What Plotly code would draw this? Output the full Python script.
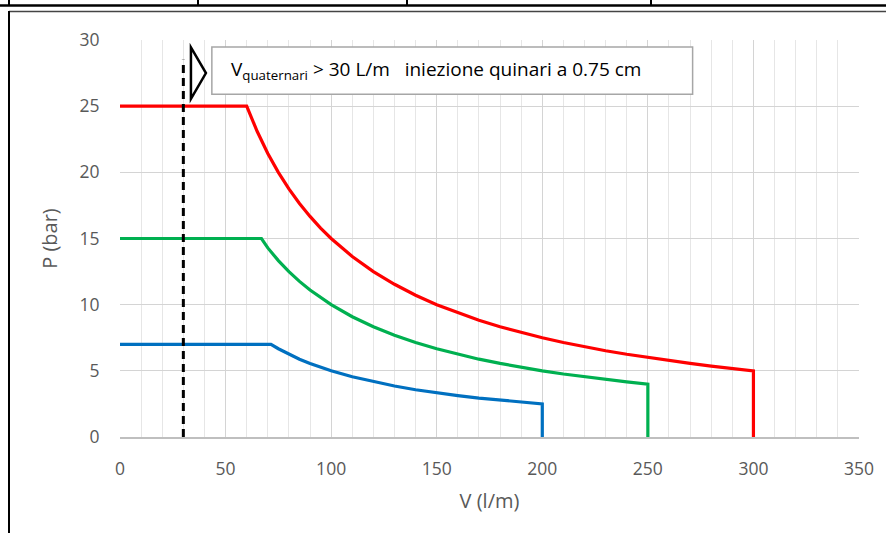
import plotly.graph_objects as go

# ---- data ----
v_red = [0, 60, 65, 70, 75, 80, 85, 90, 95, 100, 110, 120, 130, 140, 150, 160, 170, 180,
         190, 200, 210, 220, 230, 240, 250, 260, 270, 280, 290, 300, 300]
p_red = [25, 25, 23.08, 21.43, 20, 18.75, 17.65, 16.67, 15.79, 15, 13.64, 12.5, 11.54, 10.71,
         10, 9.38, 8.82, 8.33, 7.89, 7.5, 7.14, 6.82, 6.52, 6.25, 6, 5.77, 5.56, 5.36, 5.17, 5, 0]

v_green = [0, 67, 70, 75, 80, 85, 90, 95, 100, 110, 120, 130, 140, 150, 160, 170, 180, 190,
           200, 210, 220, 230, 240, 250, 250]
p_green = [15, 15, 14.29, 13.33, 12.5, 11.76, 11.11, 10.53, 10, 9.09, 8.33, 7.69, 7.14, 6.67,
           6.25, 5.88, 5.56, 5.26, 5, 4.76, 4.55, 4.35, 4.17, 4, 0]

v_blue = [0, 71.5, 75, 80, 85, 90, 95, 100, 110, 120, 130, 140, 150, 160, 170, 180, 190, 200, 200]
p_blue = [7, 7, 6.67, 6.25, 5.88, 5.56, 5.26, 5, 4.55, 4.17, 3.85, 3.57, 3.33, 3.13, 2.94,
          2.78, 2.63, 2.5, 0]

v_limit = [30, 30]
p_limit = [0, 28.5]

x_ticks = [0, 50, 100, 150, 200, 250, 300, 350]
y_ticks = [0, 5, 10, 15, 20, 25, 30]

note_text = "V<sub>quaternari</sub> &gt; 30 L/m&nbsp;&nbsp;&nbsp;iniezione quinari a 0.75 cm"
x_title = "V (l/m)"
y_title = "P (bar)"

FONT = "Open Sans"
TICK_COL = "#595959"

fig = go.Figure()
fig.add_trace(go.Scatter(x=v_blue, y=p_blue, mode="lines",
                         line=dict(color="#0070C0", width=3.2), showlegend=False))
fig.add_trace(go.Scatter(x=v_green, y=p_green, mode="lines",
                         line=dict(color="#00B050", width=3.2), showlegend=False))
fig.add_trace(go.Scatter(x=v_red, y=p_red, mode="lines",
                         line=dict(color="#FF0000", width=3.2), showlegend=False))
fig.add_trace(go.Scatter(x=v_limit, y=p_limit, mode="lines",
                         line=dict(color="#000000", width=3, dash="8px,5px"),
                         showlegend=False))

# triangle marker (annotation decoration)
fig.add_shape(type="path", xref="x", yref="y",
              path="M 33.6 29.45 L 40.7 27.5 L 33.6 25.55 Z",
              line=dict(color="#000000", width=2.5), fillcolor="rgba(0,0,0,0)")

# note box + text
fig.add_shape(type="rect", xref="x", yref="y", x0=43.5, x1=271.2, y0=25.9, y1=29.47,
              line=dict(color="#A6A6A6", width=1.5), fillcolor="#FFFFFF", layer="above")
fig.add_annotation(xref="x", yref="y", x=51.6, y=27.75, xanchor="left", yanchor="middle",
                   text=note_text, showarrow=False, align="left",
                   font=dict(family=FONT, size=19, color="#000000"))

# document frame / table lines (paper coordinates)
L, R, T, B = 120, 859, 40, 437
def px(x):
    return (x - L) / (R - L)
def py(y):
    return (B - y) / (B - T)

fig.add_shape(type="line", xref="paper", yref="paper", x0=px(0), x1=px(886), y0=py(5.5), y1=py(5.5),
              line=dict(color="#000000", width=2.5))
for xv in [9, 198, 407, 651]:
    fig.add_shape(type="line", xref="paper", yref="paper", x0=px(xv), x1=px(xv), y0=py(0), y1=py(5.5),
                  line=dict(color="#000000", width=2))
fig.add_shape(type="line", xref="paper", yref="paper", x0=px(9), x1=px(886), y0=py(11.5), y1=py(11.5),
              line=dict(color="#444444", width=1.5))
fig.add_shape(type="line", xref="paper", yref="paper", x0=px(9), x1=px(9), y0=py(11), y1=py(533),
              line=dict(color="#000000", width=2))

fig.update_layout(
    width=886, height=533,
    margin=dict(l=L, r=886 - R, t=T, b=533 - B),
    paper_bgcolor="#FFFFFF", plot_bgcolor="#FFFFFF",
    font=dict(family=FONT, size=17, color=TICK_COL),
)
fig.update_xaxes(range=[0, 350], tickvals=x_ticks, ticktext=[str(t) for t in x_ticks],
                 showgrid=True, gridcolor="#D4D4D4", gridwidth=1,
                 minor=dict(dtick=10, tick0=0, showgrid=True, gridcolor="#E6E6E6", gridwidth=1),
                 zeroline=False, showline=True, linecolor="#BFBFBF", linewidth=1.5, mirror=False,
                 ticks="outside", ticklen=15, tickcolor="rgba(0,0,0,0)",
                 tickfont=dict(family=FONT, size=17.5, color=TICK_COL),
                 title=dict(text=x_title, font=dict(family=FONT, size=20, color=TICK_COL), standoff=15))
fig.update_yaxes(range=[0, 30], tickvals=y_ticks, ticktext=[str(t) for t in y_ticks],
                 showgrid=True, gridcolor="#D4D4D4", gridwidth=1,
                 zeroline=False, showline=False,
                 ticks="outside", ticklen=16, tickcolor="rgba(0,0,0,0)",
                 tickfont=dict(family=FONT, size=17.5, color=TICK_COL),
                 title=dict(text=y_title, font=dict(family=FONT, size=20, color=TICK_COL), standoff=16))

fig.write_html("out.html")
